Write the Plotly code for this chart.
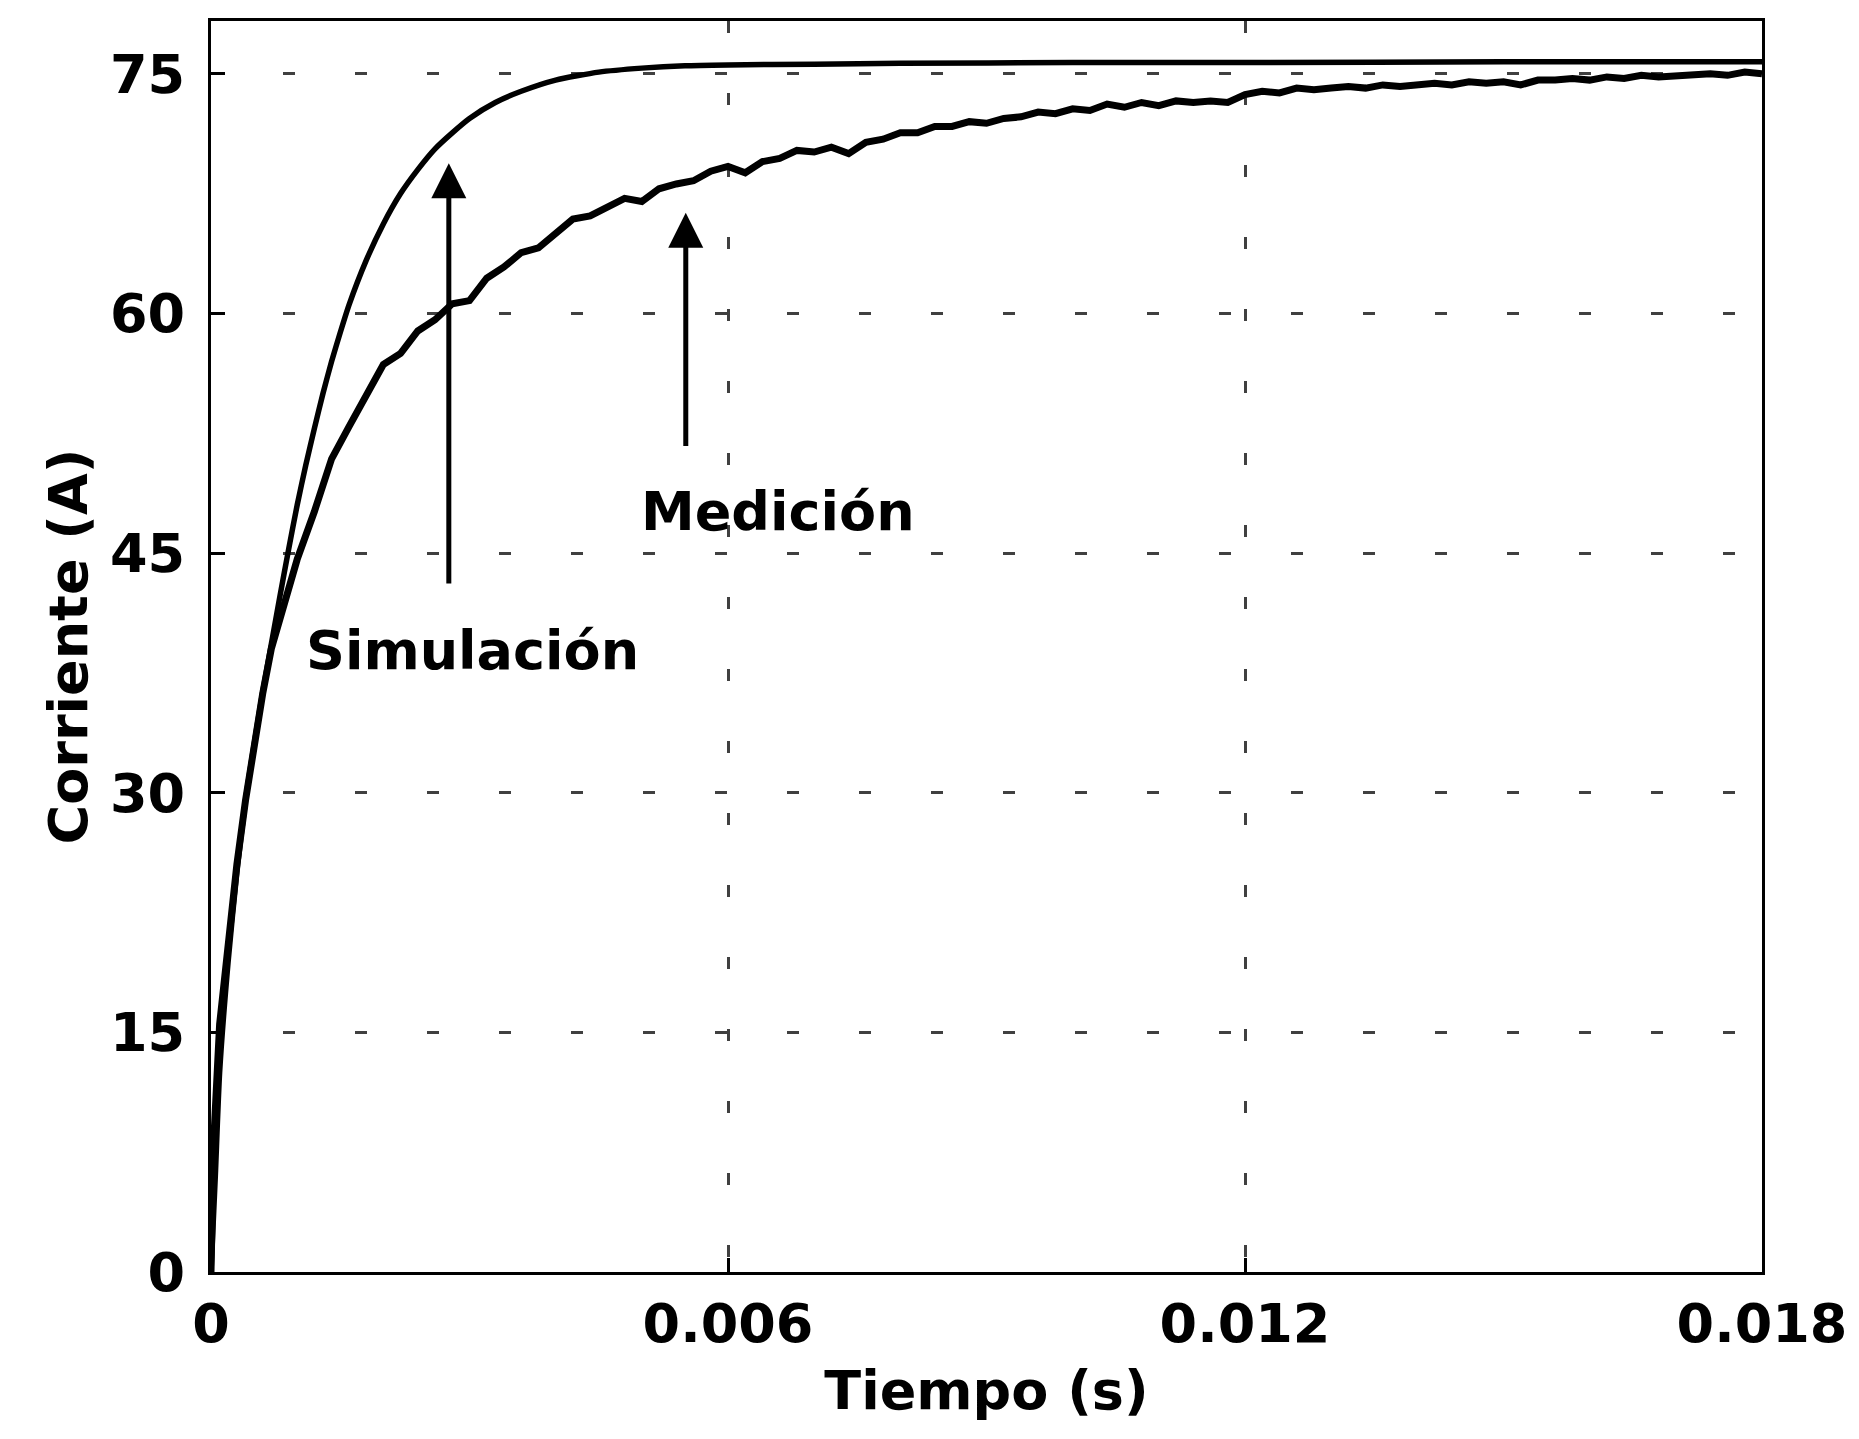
import plotly.graph_objects as go

# ---- data ----
sim_t = [0, 0.00005, 0.0001, 0.0002, 0.0003, 0.0004, 0.0005, 0.0006, 0.0007, 0.0008,
         0.0009, 0.001, 0.0011, 0.0012, 0.0013, 0.0014, 0.0015, 0.0016, 0.0018, 0.002,
         0.0022, 0.0024, 0.0026, 0.0028, 0.003, 0.0033, 0.0036, 0.004, 0.0045, 0.005,
         0.0055, 0.006, 0.007, 0.008, 0.01, 0.012, 0.015, 0.018]
sim_i = [0, 6, 12.5, 19.5, 25, 29.5, 33, 36.3, 39.3, 42.3,
         45.2, 48, 50.5, 52.8, 55, 57, 58.8, 60.5, 63.3, 65.6,
         67.5, 69, 70.3, 71.3, 72.2, 73.2, 73.9, 74.6, 75.1, 75.35,
         75.5, 75.55, 75.6, 75.65, 75.7, 75.7, 75.75, 75.75]

meas_t = [0, 0.00003, 0.0001, 0.0002, 0.0003, 0.0004, 0.0005, 0.0006, 0.0007, 0.0008, 0.0009,
          0.0010, 0.0012, 0.0014, 0.0016, 0.0018, 0.0020, 0.0022, 0.0024, 0.0026, 0.0028,
          0.0030, 0.0032, 0.0034, 0.0036, 0.0038, 0.0040, 0.0042, 0.0044, 0.0046, 0.0048,
          0.0050, 0.0052, 0.0054, 0.0056, 0.0058, 0.0060, 0.0062, 0.0064, 0.0066, 0.0068,
          0.0070, 0.0072, 0.0074, 0.0076, 0.0078, 0.0080, 0.0082, 0.0084, 0.0086, 0.0088,
          0.0090, 0.0092, 0.0094, 0.0096, 0.0098, 0.0100, 0.0102, 0.0104, 0.0106, 0.0108,
          0.0110, 0.0112, 0.0114, 0.0116, 0.0118, 0.0120, 0.0122, 0.0124, 0.0126, 0.0128,
          0.0130, 0.0132, 0.0134, 0.0136, 0.0138, 0.0140, 0.0142, 0.0144, 0.0146, 0.0148,
          0.0150, 0.0152, 0.0154, 0.0156, 0.0158, 0.0160, 0.0162, 0.0164, 0.0166, 0.0168,
          0.0170, 0.0172, 0.0174, 0.0176, 0.0178, 0.0180]
meas_i = [0, 8, 15.5, 21, 25.5, 29.5, 33, 36.2, 39, 41, 42.8,
          44.6, 47.6, 50.9, 52.9, 54.8, 56.8, 57.5, 58.9, 59.6, 60.6,
          60.8, 62.2, 62.9, 63.8, 64.1, 65.0, 65.9, 66.1, 66.6, 67.2,
          67.0, 67.8, 68.1, 68.3, 68.9, 69.2, 68.8, 69.5, 69.7, 70.2,
          70.1, 70.4, 70.0, 70.7, 70.9, 71.3, 71.3, 71.7, 71.7, 72.0,
          71.9, 72.2, 72.3, 72.6, 72.5, 72.8, 72.7, 73.1, 72.9, 73.2,
          73.0, 73.3, 73.2, 73.3, 73.2, 73.7, 73.9, 73.8, 74.1, 74.0,
          74.1, 74.2, 74.1, 74.3, 74.2, 74.3, 74.4, 74.3, 74.5, 74.4,
          74.5, 74.3, 74.6, 74.6, 74.7, 74.6, 74.8, 74.7, 74.9, 74.8,
          74.9, 74.9, 75.0, 74.9, 75.1, 75.0]

x_ticks = [0, 0.006, 0.012, 0.018]
x_tick_text = ["0", "0.006", "0.012", "0.018"]
y_ticks = [0, 15, 30, 45, 60, 75]
y_tick_text = ["0", "15", "30", "45", "60", "75"]

# label / arrow anchors
labels = ["Simulación", "Medición"]
label_x = [0.00304, 0.00658]
label_y = [38.9, 47.6]
arrow_tip_x = [0.00276, 0.00551]
arrow_tip_y = [69.4, 66.3]
arrow_tail_x = [0.00276, 0.00551]
arrow_tail_y = [43.0, 51.6]

FONT = "DejaVu Sans"

fig = go.Figure()
fig.add_trace(go.Scatter(x=meas_t, y=meas_i, mode="lines", name="Medición",
                         line=dict(color="black", width=7)))
fig.add_trace(go.Scatter(x=sim_t, y=sim_i, mode="lines", name="Simulación",
                         line=dict(color="black", width=5.5, shape="spline", smoothing=0.6)))

for i in range(len(labels)):
    fig.add_annotation(x=label_x[i], y=label_y[i], text=labels[i], showarrow=False,
                       font=dict(family=FONT, size=54, color="black", weight="bold"),
                       xanchor="center", yanchor="middle")
    fig.add_annotation(x=arrow_tip_x[i], y=arrow_tip_y[i], ax=arrow_tail_x[i], ay=arrow_tail_y[i],
                       axref="x", ayref="y", xref="x", yref="y", text="", showarrow=True,
                       arrowhead=2, arrowsize=1.4, arrowwidth=5, arrowcolor="black")

grid_common = dict(showgrid=True, gridcolor="rgba(0,0,0,0.75)", gridwidth=3, griddash="12px,60px",
                   zeroline=False, showline=True, linecolor="black", linewidth=3, mirror=True,
                   ticks="inside", ticklen=14, tickwidth=3, tickcolor="black",
                   tickfont=dict(family=FONT, size=54, color="black", weight="bold"))

fig.update_xaxes(range=[0, 0.018], tickvals=x_ticks, ticktext=x_tick_text,
                 ticklabelstandoff=2,
                 title=dict(text="Tiempo (s)", standoff=18,
                            font=dict(family=FONT, size=54, color="black", weight="bold")),
                 **grid_common)
fig.update_yaxes(range=[0, 78.3], tickvals=y_ticks, ticktext=y_tick_text,
                 ticklabelstandoff=12,
                 title=dict(text="Corriente (A)", standoff=6,
                            font=dict(family=FONT, size=54, color="black", weight="bold")),
                 **grid_common)

fig.update_layout(width=1859, height=1439, showlegend=False,
                  paper_bgcolor="white", plot_bgcolor="white",
                  margin=dict(l=211, r=89, t=21, b=167))

fig.write_html("out.html")
